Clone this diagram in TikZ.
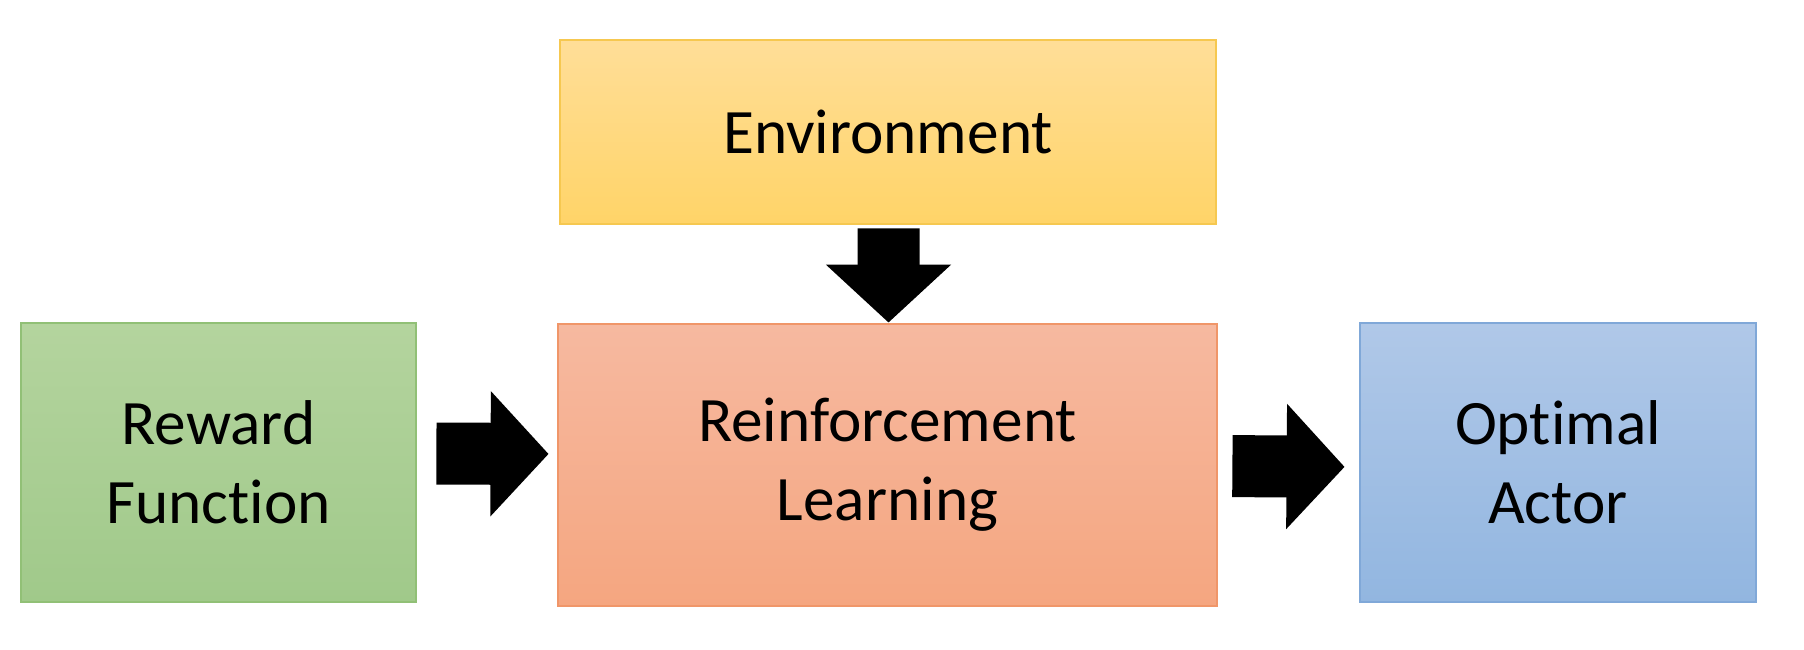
\documentclass[tikz,border=0pt]{standalone}
\usepackage{fontspec}
\setmainfont[Ligatures=NoCommon]{Carlito}
\usetikzlibrary{calc,arrows.meta}

\begin{document}
\begin{tikzpicture}[
  box/.style={rectangle, align=center, font=\fontsize{18}{22.5}\selectfont, line width=0.8pt, inner sep=0pt},
  blockarrow/.style={line width=0.62cm, -{Triangle[width=1.22cm,length=0.58cm]}}
  ]
  % Frame
  \useasboundingbox (0,0) rectangle (18.04,6.5);

  % Boxes
  \node[box, minimum width=6.56cm, minimum height=1.84cm, draw={rgb,255:red,246;green,200;blue,80},
    top color={rgb,255:red,255;green,222;blue,152}, bottom color={rgb,255:red,255;green,212;blue,104}]
    (env) at (8.88,5.18) {Environment};
  \node[box, minimum width=6.59cm, minimum height=2.82cm, draw={rgb,255:red,240;green,150;blue,105},
    top color={rgb,255:red,246;green,185;blue,160}, bottom color={rgb,255:red,245;green,166;blue,128}]
    (rl) at (8.875,1.85) {Reinforcement\\Learning};
  \node[box, minimum width=3.95cm, minimum height=2.79cm, draw={rgb,255:red,145;green,192;blue,118},
    top color={rgb,255:red,180;green,212;blue,158}, bottom color={rgb,255:red,160;green,201;blue,138}]
    (rew) at (2.185,1.875) {Reward\\Function};
  \node[box, minimum width=3.96cm, minimum height=2.79cm, draw={rgb,255:red,128;green,168;blue,216},
    top color={rgb,255:red,176;green,200;blue,232}, bottom color={rgb,255:red,146;green,182;blue,224}]
    (opt) at (15.58,1.875) {Optimal\\Actor};

  % Arrows
  \draw[blockarrow, shorten <=0.03cm] ($(env.south)+(0.005,0)$) -- ($(rl.north)+(0.01,0)$);
  \draw[blockarrow, shorten <=0.19cm, shorten >=0.08cm] ($(rew.east)+(0,0.09)$) -- ($(rl.west)+(0,0.11)$);
  \draw[blockarrow, shorten <=0.14cm, shorten >=0.14cm] ($(rl.east)+(0,-0.01)$) -- ($(opt.west)+(0,-0.045)$);
\end{tikzpicture}
\end{document}
